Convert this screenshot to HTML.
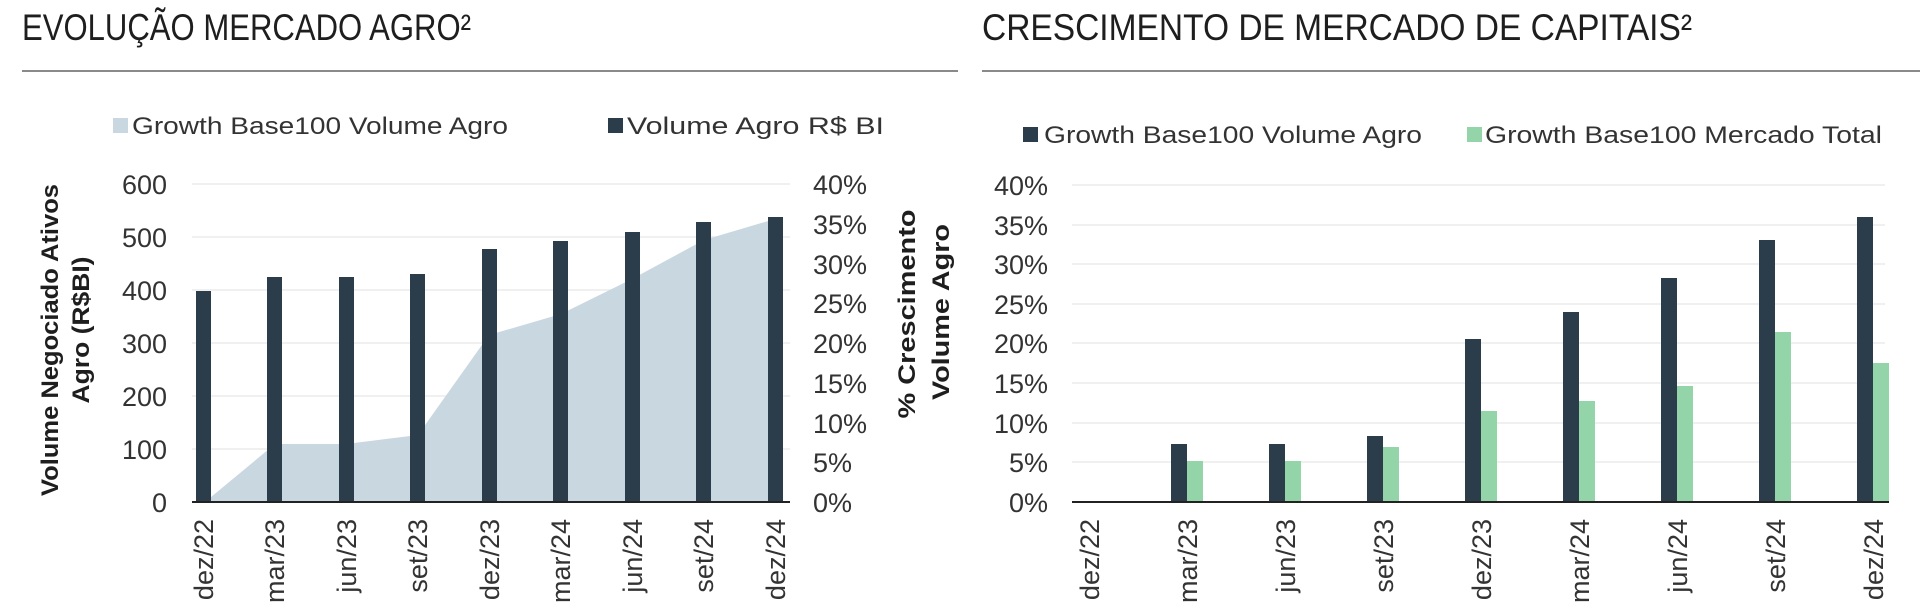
<!DOCTYPE html>
<html><head><meta charset="utf-8"><style>
html,body{margin:0;padding:0;background:#fff;}
svg{display:block;}
text{font-family:"Liberation Sans",sans-serif;fill:#2a2a2a;}
.t{font-family:"Liberation Sans Narrow","Liberation Sans",sans-serif;font-size:37px;fill:#1e1e1e;}
.l{font-size:24px;fill:#333;}
.n{font-size:27px;fill:#333;}
.d{font-size:27px;fill:#333;}
.b{font-size:24px;font-weight:bold;fill:#1e1e1e;}
</style></head><body>
<svg width="1920" height="613" viewBox="0 0 1920 613" xmlns="http://www.w3.org/2000/svg">
<text class="t" x="22" y="40" textLength="449" lengthAdjust="spacingAndGlyphs">EVOLUÇÃO MERCADO AGRO²</text>
<rect x="22" y="70" width="936" height="2" fill="#8a8a8a"/>
<text class="t" x="982" y="40" textLength="710" lengthAdjust="spacingAndGlyphs">CRESCIMENTO DE MERCADO DE CAPITAIS²</text>
<rect x="982" y="70" width="938" height="2" fill="#8a8a8a"/>

<rect x="113" y="118" width="15" height="15" fill="#c9d7e0"/>
<text class="l" x="132" y="134" textLength="376" lengthAdjust="spacingAndGlyphs">Growth Base100 Volume Agro</text>
<rect x="608" y="118" width="15" height="15" fill="#2b3d4b"/>
<text class="l" x="627" y="134" textLength="257" lengthAdjust="spacingAndGlyphs">Volume Agro R$ BI</text>

<g stroke="#ececec" stroke-width="1.5">
<line x1="192" y1="184" x2="790" y2="184"/>
<line x1="192" y1="237" x2="790" y2="237"/>
<line x1="192" y1="290" x2="790" y2="290"/>
<line x1="192" y1="343" x2="790" y2="343"/>
<line x1="192" y1="396" x2="790" y2="396"/>
<line x1="192" y1="449" x2="790" y2="449"/>
</g>
<g text-anchor="end">
<text class="n" x="167" y="194">600</text>
<text class="n" x="167" y="247">500</text>
<text class="n" x="167" y="300">400</text>
<text class="n" x="167" y="353">300</text>
<text class="n" x="167" y="406">200</text>
<text class="n" x="167" y="459">100</text>
<text class="n" x="167" y="512">0</text>
</g>
<g>
<text class="n" x="813" y="194">40%</text>
<text class="n" x="813" y="234">35%</text>
<text class="n" x="813" y="274">30%</text>
<text class="n" x="813" y="313">25%</text>
<text class="n" x="813" y="353">20%</text>
<text class="n" x="813" y="393">15%</text>
<text class="n" x="813" y="433">10%</text>
<text class="n" x="813" y="472">5%</text>
<text class="n" x="813" y="512">0%</text>
</g>
<polygon fill="#c9d7e0" points="205,502 275,444 346,444 418,435 489,335 561,314 632,279 704,240 775,219 775,502"/>
<g fill="#2b3d4b">
<rect x="196" y="291" width="15" height="211"/>
<rect x="267" y="277" width="15" height="225"/>
<rect x="339" y="277" width="15" height="225"/>
<rect x="410" y="274" width="15" height="228"/>
<rect x="482" y="249" width="15" height="253"/>
<rect x="553" y="241" width="15" height="261"/>
<rect x="625" y="232" width="15" height="270"/>
<rect x="696" y="222" width="15" height="280"/>
<rect x="768" y="217" width="15" height="285"/>
</g>
<rect x="192" y="501" width="598" height="2" fill="#222"/>
<g>
<text class="d" transform="translate(213,519) rotate(-90)" text-anchor="end">dez/22</text>
<text class="d" transform="translate(284,519) rotate(-90)" text-anchor="end">mar/23</text>
<text class="d" transform="translate(356,519) rotate(-90)" text-anchor="end">jun/23</text>
<text class="d" transform="translate(427,519) rotate(-90)" text-anchor="end">set/23</text>
<text class="d" transform="translate(499,519) rotate(-90)" text-anchor="end">dez/23</text>
<text class="d" transform="translate(570,519) rotate(-90)" text-anchor="end">mar/24</text>
<text class="d" transform="translate(642,519) rotate(-90)" text-anchor="end">jun/24</text>
<text class="d" transform="translate(713,519) rotate(-90)" text-anchor="end">set/24</text>
<text class="d" transform="translate(785,519) rotate(-90)" text-anchor="end">dez/24</text>
</g>
<text class="b" transform="translate(58,340) rotate(-90)" text-anchor="middle" textLength="312" lengthAdjust="spacingAndGlyphs">Volume Negociado Ativos</text>
<text class="b" transform="translate(89,330) rotate(-90)" text-anchor="middle" textLength="147" lengthAdjust="spacingAndGlyphs">Agro (R$BI)</text>
<text class="b" transform="translate(915,314) rotate(-90)" text-anchor="middle" textLength="209" lengthAdjust="spacingAndGlyphs">% Crescimento</text>
<text class="b" transform="translate(949,312) rotate(-90)" text-anchor="middle" textLength="176" lengthAdjust="spacingAndGlyphs">Volume Agro</text>

<rect x="1023" y="127" width="15" height="15" fill="#2b3d4b"/>
<text class="l" x="1044" y="143" textLength="378" lengthAdjust="spacingAndGlyphs">Growth Base100 Volume Agro</text>
<rect x="1467" y="127" width="15" height="15" fill="#93d4a9"/>
<text class="l" x="1485" y="143" textLength="397" lengthAdjust="spacingAndGlyphs">Growth Base100 Mercado Total</text>

<g stroke="#ececec" stroke-width="1.5">
<line x1="1072" y1="185" x2="1885" y2="185"/>
<line x1="1072" y1="225" x2="1885" y2="225"/>
<line x1="1072" y1="264" x2="1885" y2="264"/>
<line x1="1072" y1="304" x2="1885" y2="304"/>
<line x1="1072" y1="343" x2="1885" y2="343"/>
<line x1="1072" y1="383" x2="1885" y2="383"/>
<line x1="1072" y1="423" x2="1885" y2="423"/>
<line x1="1072" y1="462" x2="1885" y2="462"/>
</g>
<g text-anchor="end">
<text class="n" x="1048" y="195">40%</text>
<text class="n" x="1048" y="235">35%</text>
<text class="n" x="1048" y="274">30%</text>
<text class="n" x="1048" y="314">25%</text>
<text class="n" x="1048" y="353">20%</text>
<text class="n" x="1048" y="393">15%</text>
<text class="n" x="1048" y="433">10%</text>
<text class="n" x="1048" y="472">5%</text>
<text class="n" x="1048" y="512">0%</text>
</g>
<g fill="#2b3d4b">
<rect x="1171" y="444" width="16" height="58"/>
<rect x="1269" y="444" width="16" height="58"/>
<rect x="1367" y="436" width="16" height="66"/>
<rect x="1465" y="339" width="16" height="163"/>
<rect x="1563" y="312" width="16" height="190"/>
<rect x="1661" y="278" width="16" height="224"/>
<rect x="1759" y="240" width="16" height="262"/>
<rect x="1857" y="217" width="16" height="285"/>
</g>
<g fill="#93d4a9">
<rect x="1187" y="461" width="16" height="41"/>
<rect x="1285" y="461" width="16" height="41"/>
<rect x="1383" y="447" width="16" height="55"/>
<rect x="1481" y="411" width="16" height="91"/>
<rect x="1579" y="401" width="16" height="101"/>
<rect x="1677" y="386" width="16" height="116"/>
<rect x="1775" y="332" width="16" height="170"/>
<rect x="1873" y="363" width="16" height="139"/>
</g>
<rect x="1072" y="501" width="817" height="2" fill="#222"/>
<g>
<text class="d" transform="translate(1099,519) rotate(-90)" text-anchor="end">dez/22</text>
<text class="d" transform="translate(1197,519) rotate(-90)" text-anchor="end">mar/23</text>
<text class="d" transform="translate(1295,519) rotate(-90)" text-anchor="end">jun/23</text>
<text class="d" transform="translate(1393,519) rotate(-90)" text-anchor="end">set/23</text>
<text class="d" transform="translate(1491,519) rotate(-90)" text-anchor="end">dez/23</text>
<text class="d" transform="translate(1589,519) rotate(-90)" text-anchor="end">mar/24</text>
<text class="d" transform="translate(1687,519) rotate(-90)" text-anchor="end">jun/24</text>
<text class="d" transform="translate(1785,519) rotate(-90)" text-anchor="end">set/24</text>
<text class="d" transform="translate(1883,519) rotate(-90)" text-anchor="end">dez/24</text>
</g>
</svg>
</body></html>
